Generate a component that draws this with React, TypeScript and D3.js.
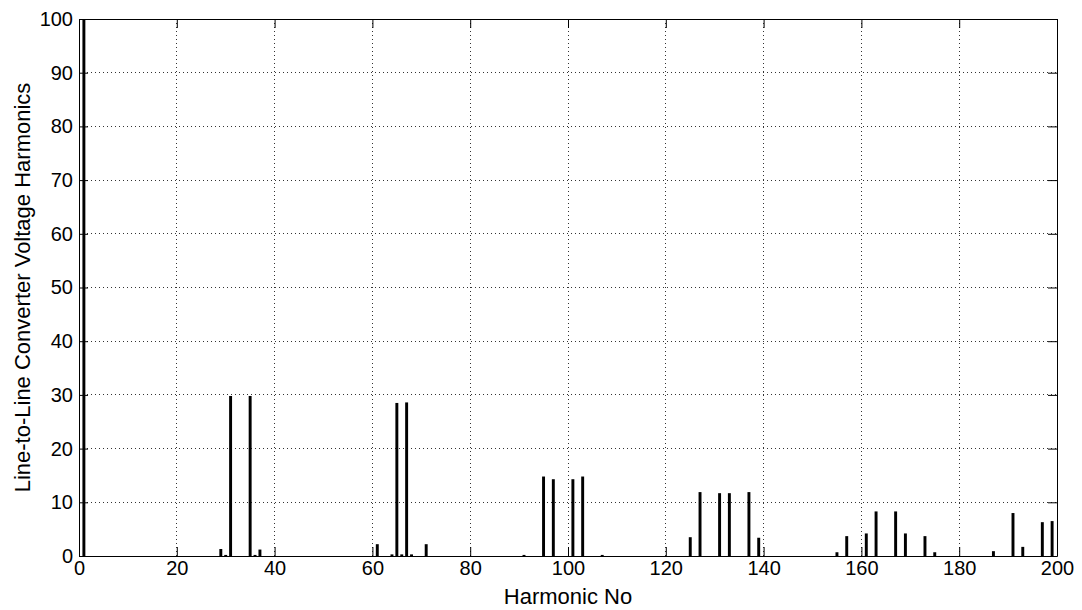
import React, { useEffect, useRef } from 'react';
import * as d3 from 'd3';

// harmonic order and amplitude (% of fundamental)
const harmonics = [1, 29, 30, 31, 35, 36, 37, 61, 64, 65, 66, 67, 68, 71, 91, 95, 97, 101, 103, 107, 125, 127, 131, 133, 137, 139, 155, 157, 161, 163, 167, 169, 173, 175, 187, 191, 193, 197, 199];
const amplitudes = [100, 1.3, 0.2, 29.8, 29.8, 0.2, 1.2, 2.2, 0.3, 28.5, 0.3, 28.6, 0.3, 2.2, 0.2, 14.8, 14.3, 14.3, 14.8, 0.2, 3.5, 11.9, 11.7, 11.7, 11.9, 3.4, 0.7, 3.7, 4.2, 8.3, 8.3, 4.2, 3.7, 0.7, 0.9, 8.0, 1.7, 6.3, 6.5];

const xTicks = [0, 20, 40, 60, 80, 100, 120, 140, 160, 180, 200];
const yTicks = [0, 10, 20, 30, 40, 50, 60, 70, 80, 90, 100];

export default function App() {
  const svgRef = useRef(null);

  useEffect(() => {
    const margin = { top: 19, right: 25, bottom: 54, left: 79 };
    const width = 1082 - margin.left - margin.right;
    const height = 610 - margin.top - margin.bottom;
    const font = 'Arial, "Liberation Sans", Helvetica, sans-serif';

    const root = d3.select(svgRef.current);
    root.selectAll('*').remove();
    const svg = root
      .append('g')
      .attr('transform', `translate(${margin.left},${margin.top})`);

    const x = d3.scaleLinear().domain([0, 200]).range([0, width]);
    const y = d3.scaleLinear().domain([0, 100]).range([height, 0]);

    // dotted grid
    svg.append('g')
      .selectAll('line.gx')
      .data(xTicks.slice(1, -1))
      .join('line')
      .attr('x1', (d) => x(d)).attr('x2', (d) => x(d))
      .attr('y1', 0).attr('y2', height)
      .attr('stroke', '#333').attr('stroke-width', 1)
      .attr('stroke-dasharray', '1,3')
      .attr('shape-rendering', 'crispEdges');
    svg.append('g')
      .selectAll('line.gy')
      .data(yTicks.slice(1, -1))
      .join('line')
      .attr('x1', 0).attr('x2', width)
      .attr('y1', (d) => y(d)).attr('y2', (d) => y(d))
      .attr('stroke', '#333').attr('stroke-width', 1)
      .attr('stroke-dasharray', '1,3')
      .attr('shape-rendering', 'crispEdges');

    // bars
    const data = harmonics.map((h, i) => ({ h, v: amplitudes[i] }));
    svg.append('g')
      .selectAll('rect')
      .data(data)
      .join('rect')
      .attr('x', (d) => x(d.h - 0.3))
      .attr('width', (d) => x(d.h + 0.3) - x(d.h - 0.3))
      .attr('y', (d) => y(d.v))
      .attr('height', (d) => height - y(d.v))
      .attr('fill', '#000');

    // axes with inward ticks, MATLAB style
    const tickLen = 9;
    const axB = svg.append('g').attr('transform', `translate(0,${height})`)
      .call(d3.axisBottom(x).tickValues(xTicks).tickSizeInner(-tickLen).tickSizeOuter(0).tickPadding(5));
    const axL = svg.append('g')
      .call(d3.axisLeft(y).tickValues(yTicks).tickSizeInner(-tickLen).tickSizeOuter(0).tickPadding(6));
    svg.append('g').attr('transform', `translate(${width},0)`)
      .call(d3.axisRight(y).tickValues(yTicks).tickSizeInner(-tickLen).tickSizeOuter(0).tickFormat(() => ''));
    svg.append('g')
      .call(d3.axisTop(x).tickValues(xTicks).tickSizeInner(-tickLen).tickSizeOuter(0).tickFormat(() => ''));

    svg.selectAll('.domain').attr('stroke', '#000');
    svg.selectAll('.tick line').attr('stroke', '#000');
    [axB, axL].forEach((a) =>
      a.selectAll('text').attr('font-family', font).attr('font-size', 20).attr('fill', '#000')
    );

    svg.append('text')
      .attr('x', width / 2).attr('y', height + 48)
      .attr('text-anchor', 'middle')
      .attr('font-family', font).attr('font-size', 22)
      .text('Harmonic No');

    svg.append('text')
      .attr('transform', `translate(${-margin.left + 30},${height / 2}) rotate(-90)`)
      .attr('text-anchor', 'middle')
      .attr('font-family', font).attr('font-size', 22)
      .text('Line-to-Line Converter Voltage Harmonics');
  }, []);

  return (
    <svg
      ref={svgRef}
      width={1082}
      height={610}
      style={{ position: 'absolute', left: 0, top: 0, background: '#fff' }}
    ></svg>
  );
}
